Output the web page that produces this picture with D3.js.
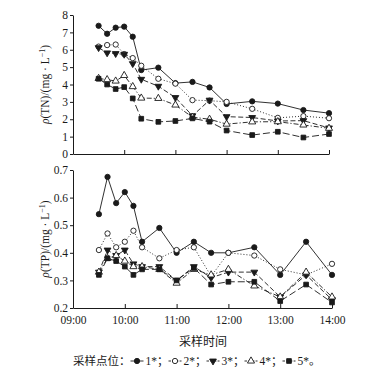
<!DOCTYPE html>
<html><head><meta charset="utf-8">
<script src="https://cdn.jsdelivr.net/npm/d3@7"></script>
<style>body{margin:0;background:#fff}svg{display:block}</style>
</head><body>
<svg id="c" width="370" height="378"></svg>
<script>
const times = ["09:30","09:40","09:50","10:00","10:10","10:20","10:40","11:00","11:20","11:40","12:00","12:30","13:00","13:30","14:00"];
const seriesNames = ["1*","2*","3*","4*","5*"];
const tn1 = [7.38,6.92,7.27,7.33,6.75,4.83,4.97,4.08,4.15,3.83,2.88,3.03,2.90,2.53,2.35];
const tn2 = [6.18,6.27,6.30,5.75,5.52,5.08,4.33,4.05,3.10,3.07,3.00,2.60,2.08,2.18,2.06];
const tn3 = [6.12,5.82,5.78,5.74,5.20,4.30,3.90,3.25,2.20,3.10,2.15,2.10,1.90,1.92,1.50];
const tn4 = [4.35,4.28,4.20,4.52,3.88,3.22,3.20,2.82,2.12,2.00,1.72,1.85,1.86,1.67,1.48];
const tn5 = [4.33,4.00,3.74,3.85,3.20,2.03,1.85,1.90,2.05,1.86,1.35,1.09,1.28,0.95,1.15];
const tp1 = [0.54,0.675,0.58,0.62,0.57,0.44,0.49,0.40,0.44,0.40,0.40,0.42,0.32,0.44,0.32];
const tp2 = [0.41,0.47,0.42,0.44,0.48,0.42,0.38,0.41,0.42,0.315,0.40,0.39,0.34,0.32,0.36];
const tp3 = [0.33,0.41,0.39,0.41,0.36,0.35,0.35,0.30,0.35,0.31,0.33,0.33,0.24,0.32,0.23];
const tp4 = [0.33,0.38,0.39,0.37,0.35,0.35,0.34,0.29,0.34,0.32,0.34,0.28,0.24,0.33,0.24];
const tp5 = [0.32,0.38,0.37,0.35,0.32,0.34,0.34,0.30,0.345,0.285,0.295,0.295,0.225,0.285,0.22];
const tnTicks = [0,1,2,3,4,5,6,7,8];
const tpTicks = [0.2,0.3,0.4,0.5,0.6,0.7];
const xTickLabels = ["09:00","10:00","11:00","12:00","13:00","14:00"];

const parse = d3.timeParse("%H:%M");
const fmt = d3.timeFormat("%H:%M");
const svg = d3.select("#c");
const serif = "'Liberation Serif','Times New Roman',serif";
const cjk = "'Noto Sans CJK SC',sans-serif";
const ink = "#1a1a1a";

const styles = [
  {dash:null, sym:d3.symbolCircle, size:22, fill:ink, rot:0},
  {dash:"1,2", sym:d3.symbolCircle, size:22, fill:"#fff", rot:0},
  {dash:"5,2.5", sym:d3.symbolTriangle, size:20, fill:ink, rot:180},
  {dash:"5,2,1.2,2", sym:d3.symbolTriangle, size:22, fill:"#fff", rot:0},
  {dash:"7,3", sym:d3.symbolSquare, size:22, fill:ink, rot:0}
];

function panel(cfg){
  const x = d3.scaleTime().domain([parse("09:00"), parse("14:00")]).range(cfg.xr);
  const y = d3.scaleLinear().domain(cfg.yd).range(cfg.yr);
  const g = svg.append("g");
  const ya = d3.axisLeft(y).tickValues(cfg.yticks).tickSize(3).tickSizeOuter(0)
    .tickFormat(cfg.yfmt);
  const yg = g.append("g").attr("transform",`translate(${cfg.xr[0]},0)`).call(ya);
  yg.selectAll("text").attr("font-family",serif).attr("font-size",11.5).attr("fill",ink).attr("x",-5);
  const xa = d3.axisBottom(x).tickValues(xTickLabels.map(parse)).tickSize(-4).tickSizeOuter(0)
    .tickFormat(cfg.showX ? fmt : "");
  const xg = g.append("g").attr("transform",`translate(0,${cfg.yr[0]})`).call(xa);
  xg.selectAll("text").attr("font-family",serif).attr("font-size",11.5).attr("fill",ink).attr("dy","1.15em");
  g.selectAll(".domain,.tick line").attr("stroke",ink).attr("stroke-width",1);
  cfg.data.forEach((vals,i)=>{
    const st = styles[i];
    const pts = vals.map((v,j)=>[x(parse(times[j])), y(v)]);
    g.append("path").attr("d", d3.line()(pts)).attr("fill","none")
      .attr("stroke",ink).attr("stroke-width",0.9)
      .attr("stroke-dasharray", st.dash);
  });
  cfg.data.forEach((vals,i)=>{
    const st = styles[i];
    g.append("g").selectAll("path").data(vals).join("path")
      .attr("d", d3.symbol(st.sym, st.size))
      .attr("transform",(v,j)=>`translate(${x(parse(times[j]))},${y(v)}) rotate(${st.rot})`)
      .attr("fill",st.fill).attr("stroke",ink).attr("stroke-width",0.9);
  });
  const lbl = g.append("text").attr("transform",`translate(${cfg.lx},${(cfg.yr[0]+cfg.yr[1])/2}) rotate(-90)`)
    .attr("text-anchor","middle").attr("font-family",serif).attr("font-size",11.5).attr("fill",ink);
  lbl.append("tspan").attr("font-style","italic").text("ρ");
  lbl.append("tspan").text(`(${cfg.name})/(mg · L`);
  lbl.append("tspan").attr("font-size",8).attr("dy",-4).text("−1");
  lbl.append("tspan").attr("dy",4).text(")");
}

panel({xr:[73,329], yr:[154,15], yd:[0,8], yticks:tnTicks, yfmt:d3.format("d"),
  data:[tn1,tn2,tn3,tn4,tn5], showX:false, name:"TN", lx:49});
panel({xr:[73,332], yr:[308,170], yd:[0.2,0.7], yticks:tpTicks, yfmt:d3.format(".1f"),
  data:[tp1,tp2,tp3,tp4,tp5], showX:true, name:"TP", lx:49});

svg.append("text").attr("x",203).attr("y",346).attr("text-anchor","middle")
  .attr("font-family",cjk).attr("font-size",12).attr("fill",ink).text("采样时间");

const lg = svg.append("g").attr("transform","translate(73,365)");
let cx = 0;
const head = lg.append("text").attr("x",cx).attr("font-family",cjk).attr("font-size",11.5).attr("fill",ink).text("采样点位：");
cx += head.node().getComputedTextLength();
seriesNames.forEach((n,i)=>{
  const st = styles[i];
  const w = 13;
  lg.append("line").attr("x1",cx).attr("x2",cx+w).attr("y1",-4).attr("y2",-4)
    .attr("stroke",ink).attr("stroke-width",0.9).attr("stroke-dasharray", st.dash ? "2.5,1.2" : null);
  lg.append("path").attr("d", d3.symbol(st.sym, st.size)).attr("transform",`translate(${cx+w/2},-4) rotate(${st.rot})`)
    .attr("fill",st.fill).attr("stroke",ink).attr("stroke-width",0.9);
  cx += w + 2;
  const t = lg.append("text").attr("x",cx).attr("font-family",serif).attr("font-size",11.5).attr("fill",ink).text(n);
  cx += t.node().getComputedTextLength();
  const p = lg.append("text").attr("x",cx).attr("font-family",cjk).attr("font-size",11.5).attr("fill",ink).text(i<4?"；":"。");
  cx += p.node().getComputedTextLength();
});
</script>
</body></html>
